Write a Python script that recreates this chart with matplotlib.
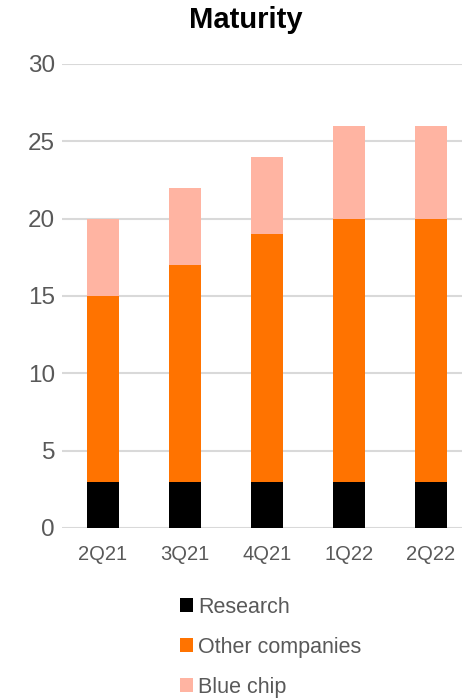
import numpy as np
import matplotlib.pyplot as plt

plt.rcParams['font.family'] = ['Liberation Sans', 'DejaVu Sans']

# === DATA ===
quarters = ["2Q21", "3Q21", "4Q21", "1Q22", "2Q22"]
research = [3, 3, 3, 3, 3]
other_companies = [12, 14, 16, 17, 17]
blue_chip = [5, 5, 5, 6, 6]

# === STYLE ===
c_research = "#000000"
c_other = "#FF7300"
c_blue = "#FFB4A2"
grey_text = "#595959"

fig = plt.figure(figsize=(4.62, 6.99), dpi=100)
ax = fig.add_axes([62 / 462, 1 - 528 / 699, 1 - 62 / 462, (528 - 64) / 699])

x = np.arange(len(quarters))
w = 0.4
bottom2 = np.array(research)
bottom3 = bottom2 + np.array(other_companies)

ax.bar(x, research, w, color=c_research, label="Research", zorder=3)
ax.bar(x, other_companies, w, bottom=bottom2, color=c_other, label="Other companies", zorder=3)
ax.bar(x, blue_chip, w, bottom=bottom3, color=c_blue, label="Blue chip", zorder=3)

ax.set_ylim(0, 30)
ax.set_yticks(range(0, 31, 5))
ax.set_xlim(-0.5, -0.5 + 400 / 82)
ax.set_xticks(x)
ax.set_xticklabels(quarters)

ax.grid(axis='y', color="#D9D9D9", linewidth=1.5, zorder=0)
ax.set_axisbelow(True)
for s in ax.spines.values():
    s.set_visible(False)
ax.tick_params(axis='y', length=0, pad=5, labelsize=17.5, labelcolor=grey_text)
ax.tick_params(axis='x', length=0, pad=12, labelsize=14.5, labelcolor=grey_text)

fig.text(246 / 462, 1 - 20 / 699, "Maturity", ha='center', va='center',
         fontsize=21, fontweight='bold')

fig.legend(loc='upper left', bbox_to_anchor=(171 / 462, 1 - 588 / 699),
           frameon=False, fontsize=15.5, labelcolor=grey_text,
           handlelength=0.6, handleheight=0.6, handletextpad=0.25,
           labelspacing=0.88, borderaxespad=0)

fig.savefig("out.png", dpi=100)
